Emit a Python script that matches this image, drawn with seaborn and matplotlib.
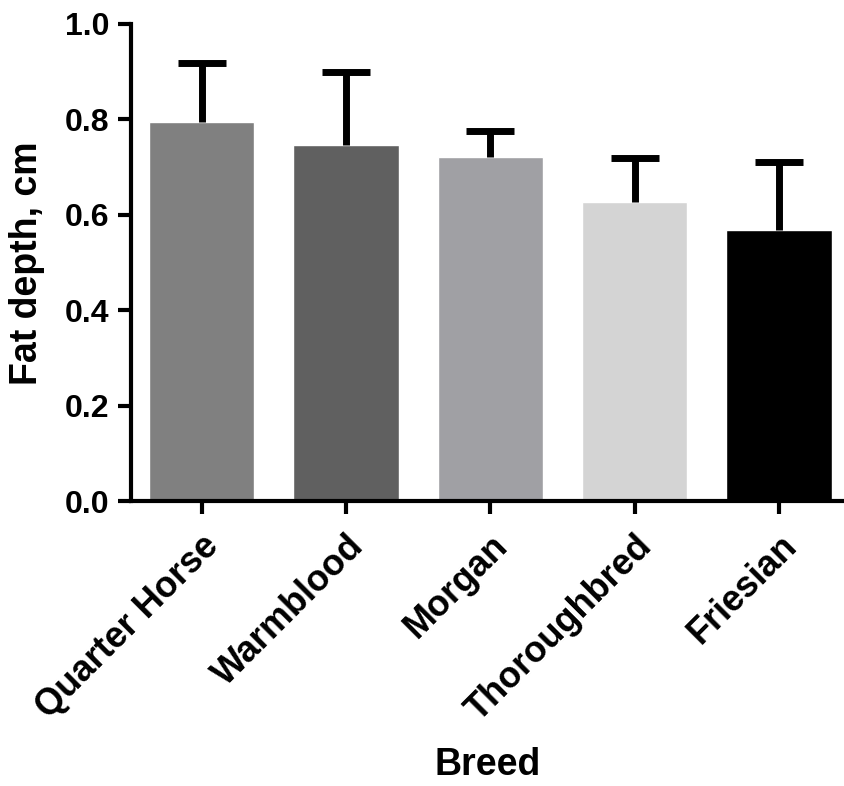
import numpy as np
import pandas as pd
import seaborn as sns
import matplotlib.pyplot as plt

breeds = ["Quarter Horse", "Warmblood", "Morgan", "Thoroughbred", "Friesian"]
fat_depth = [0.795, 0.747, 0.722, 0.628, 0.569]
fat_err = [0.123, 0.152, 0.054, 0.092, 0.141]
bar_colors = ["#808080", "#606060", "#a0a0a4", "#d4d4d4", "#000000"]
y_ticks = [0.0, 0.2, 0.4, 0.6, 0.8, 1.0]

sns.set_style("ticks")
plt.rcParams["font.family"] = ["Liberation Sans", "DejaVu Sans"]
plt.rcParams["font.weight"] = "bold"
plt.rcParams["text.color"] = "black"
plt.rcParams["axes.labelcolor"] = "black"
plt.rcParams["xtick.color"] = "black"
plt.rcParams["ytick.color"] = "black"
plt.rcParams["axes.edgecolor"] = "black"

df = pd.DataFrame({"breed": breeds, "fat": fat_depth, "err": fat_err})

fig = plt.figure(figsize=(8.44, 7.86), dpi=100)
ax = fig.add_axes([0.155, 0.362, 0.845, 0.6075])

sns.barplot(data=df, x="breed", y="fat", hue="breed", palette=bar_colors,
            legend=False, width=0.73, saturation=1, ax=ax)
# only the upper half of the error bar, like the original
_, caps, _ = ax.errorbar(x=np.arange(len(breeds)), y=df["fat"],
                         yerr=[np.zeros(len(breeds)), df["err"]],
                         fmt="none", ecolor="black", elinewidth=5, capsize=17,
                         capthick=5, zorder=1)
caps[0].set_visible(False)  # lower cap sits on the bar top, drop it

ax.set_ylim(0, 1.0)
ax.set_xlim(-0.49, 4.45)
ax.set_yticks(y_ticks)
ax.set_yticklabels([f"{t:.1f}" for t in y_ticks])
sns.despine(ax=ax)
ax.spines["left"].set_linewidth(3)
ax.spines["bottom"].set_linewidth(3)
ax.tick_params(axis="both", width=3, length=9.5)
ax.tick_params(axis="y", labelsize=23, pad=6)
ax.tick_params(axis="x", labelsize=26, pad=10)
plt.setp(ax.get_xticklabels(), rotation=45, ha="right", rotation_mode="anchor")

ax.set_ylabel("Fat depth, cm", fontsize=27, fontweight="bold", labelpad=14)
ax.set_xlabel("Breed", fontsize=27, fontweight="bold", labelpad=14)

fig.savefig("out.png", dpi=100)
